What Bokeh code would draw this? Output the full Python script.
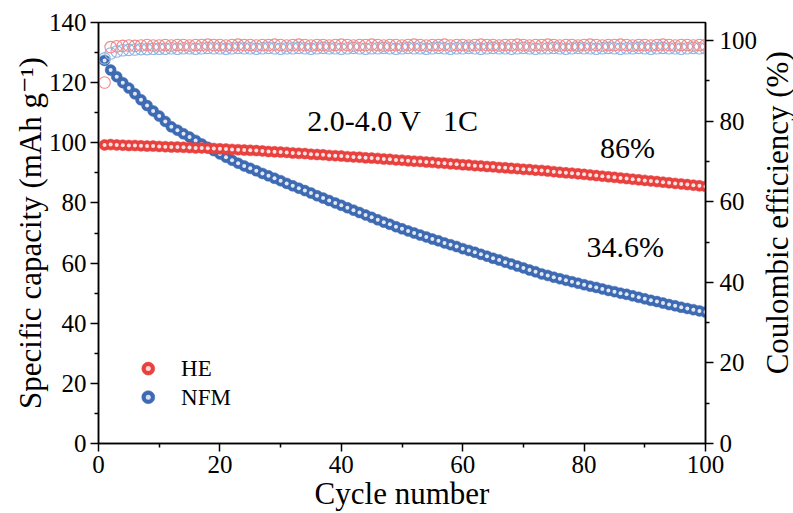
import math
from bokeh.plotting import figure
from bokeh.layouts import row
from bokeh.models import Range1d, LinearAxis, FixedTicker, Label
from bokeh.core.properties import value
from bokeh.embed import file_html
from bokeh.resources import INLINE

cycles = list(range(1, 101))

he_capacity = [
    99.3, 99.4, 99.3, 99.2, 99.1, 99.1, 99.0, 98.9, 98.9, 98.8,
    98.7, 98.6, 98.6, 98.5, 98.4, 98.3, 98.3, 98.2, 98.1, 98.0,
    97.9, 97.8, 97.7, 97.6, 97.5, 97.4, 97.3, 97.1, 97.0, 96.9,
    96.8, 96.6, 96.5, 96.4, 96.2, 96.1, 96.0, 95.8, 95.7, 95.6,
    95.4, 95.3, 95.2, 95.0, 94.9, 94.8, 94.6, 94.5, 94.3, 94.2,
    94.0, 93.9, 93.8, 93.6, 93.5, 93.3, 93.2, 93.0, 92.9, 92.7,
    92.6, 92.4, 92.3, 92.1, 92.0, 91.8, 91.7, 91.5, 91.4, 91.2,
    91.1, 90.9, 90.8, 90.6, 90.4, 90.2, 90.0, 89.9, 89.7, 89.5,
    89.3, 89.1, 88.9, 88.7, 88.5, 88.3, 88.1, 87.9, 87.7, 87.5,
    87.3, 87.1, 86.9, 86.7, 86.5, 86.3, 86.1, 85.9, 85.7, 85.5,
]

nfm_capacity = [
    127.4, 124.2, 122.0, 120.0, 118.2, 116.3, 114.3, 112.4, 110.6, 108.9,
    107.1, 105.3, 104.2, 103.0, 101.9, 100.8, 99.6, 98.5, 97.4, 96.3,
    95.2, 94.2, 93.2, 92.3, 91.5, 90.7, 89.8, 89.0, 88.2, 87.4,
    86.5, 85.7, 84.9, 84.1, 83.3, 82.4, 81.6, 80.8, 80.0, 79.2,
    78.4, 77.6, 76.8, 76.0, 75.2, 74.4, 73.6, 72.9, 72.1, 71.4,
    70.7, 70.0, 69.3, 68.7, 68.0, 67.4, 66.7, 66.1, 65.5, 64.8,
    64.2, 63.6, 62.9, 62.3, 61.6, 61.0, 60.3, 59.7, 59.0, 58.4,
    57.7, 57.1, 56.4, 55.9, 55.3, 54.8, 54.3, 53.8, 53.3, 52.8,
    52.3, 51.9, 51.4, 50.9, 50.5, 50.0, 49.6, 49.1, 48.6, 48.1,
    47.6, 47.2, 46.7, 46.2, 45.8, 45.3, 44.9, 44.5, 44.1, 43.7,
]

he_ce = [
    89.6, 98.4, 98.6, 98.7, 98.8, 98.7, 98.8, 98.9, 98.8, 98.8,
    98.9, 98.8, 98.9, 98.9, 98.8, 98.9, 98.9, 99.0, 98.9, 98.9,
    98.8, 98.9, 99.0, 98.9, 98.9, 98.8, 98.9, 98.9, 99.0, 98.9,
    98.8, 98.9, 99.0, 98.9, 98.8, 98.9, 98.9, 98.8, 98.9, 99.0,
    98.9, 98.8, 98.9, 98.9, 99.0, 98.9, 98.8, 98.9, 98.9, 98.8,
    98.9, 99.0, 98.9, 98.8, 98.9, 98.9, 99.0, 98.8, 98.9, 98.9,
    98.8, 98.9, 99.0, 98.9, 98.9, 98.8, 98.9, 98.9, 99.0, 98.9,
    98.8, 98.9, 98.9, 99.0, 98.9, 98.8, 98.9, 98.9, 98.8, 98.9,
    99.0, 98.9, 98.8, 98.9, 98.9, 99.0, 98.9, 98.8, 98.9, 98.9,
    98.8, 98.9, 99.0, 98.9, 98.8, 98.9, 98.9, 98.8, 98.9, 98.9,
]

nfm_ce = [
    95.6, 96.8, 97.3, 97.6, 97.7, 97.8, 97.9, 97.9, 98.0, 98.0,
    98.0, 98.1, 98.0, 98.1, 98.1, 98.0, 98.1, 98.2, 98.1, 98.1,
    98.0, 98.1, 98.2, 98.1, 98.1, 98.0, 98.1, 98.2, 98.1, 98.0,
    98.1, 98.1, 98.2, 98.1, 98.0, 98.1, 98.2, 98.1, 98.1, 98.0,
    98.1, 98.2, 98.1, 98.0, 98.1, 98.1, 98.2, 98.1, 98.0, 98.1,
    98.2, 98.1, 98.1, 98.0, 98.1, 98.2, 98.1, 98.0, 98.1, 98.1,
    98.2, 98.1, 98.0, 98.1, 98.2, 98.1, 98.1, 98.0, 98.1, 98.2,
    98.1, 98.0, 98.1, 98.1, 98.2, 98.1, 98.0, 98.1, 98.2, 98.1,
    98.1, 98.0, 98.1, 98.2, 98.1, 98.0, 98.1, 98.1, 98.2, 98.1,
    98.0, 98.1, 98.2, 98.1, 98.1, 98.0, 98.1, 98.2, 98.1, 98.1,
]

series_labels = ["HE", "NFM"]
left_ticks = [0, 20, 40, 60, 80, 100, 120, 140]
bottom_ticks = [0, 20, 40, 60, 80, 100]
right_ticks = [0, 20, 40, 60, 80, 100]

FONT = "Liberation Serif, Times New Roman, DejaVu Serif, serif"
RED = "#e8413e"
BLUE = "#3d6ab3"
RED_OPEN = "#f08a8a"
BLUE_OPEN = "#8fb3e3"

p = figure(width=760, height=513, output_backend="svg", toolbar_location=None,
           x_range=Range1d(0, 100), y_range=Range1d(0, 140),
           min_border_left=98, min_border_right=54, min_border_top=22,
           min_border_bottom=70, background_fill_color="white",
           border_fill_color="white")
p.extra_y_ranges = {"ce": Range1d(0, 104.5)}

p.xgrid.visible = False
p.ygrid.visible = False
p.outline_line_color = "black"
p.outline_line_width = 1.5


def style_axis(ax, ticks, minors):
    ax.ticker = FixedTicker(ticks=ticks, minor_ticks=minors)
    ax.axis_line_width = 1.5
    ax.axis_line_color = "black"
    ax.major_tick_line_width = 1.5
    ax.minor_tick_line_width = 1.5
    ax.major_tick_in = 0
    ax.major_tick_out = 8
    ax.minor_tick_in = 0
    ax.minor_tick_out = 4
    ax.major_label_text_font = FONT
    ax.major_label_text_font_size = "25px"
    ax.major_label_text_color = "black"
    ax.axis_label_text_font = FONT
    ax.axis_label_text_font_size = "31px"
    ax.axis_label_text_font_style = "normal"
    ax.axis_label_text_color = "black"
    ax.major_label_standoff = 4
    ax.axis_label_standoff = 4


xa = p.xaxis[0]
style_axis(xa, bottom_ticks, [10, 30, 50, 70, 90])
xa.axis_label = "Cycle number"
xa.axis_label_standoff = 0

ya = p.yaxis[0]
style_axis(ya, left_ticks, [10, 30, 50, 70, 90, 110, 130])
ya.axis_label = "Specific capacity (mAh g\u207b\u00b9)"
ya.axis_label_standoff = -2

ra = LinearAxis(y_range_name="ce")
style_axis(ra, right_ticks, [10, 30, 50, 70, 90])
ra.major_label_standoff = 6
p.add_layout(ra, "right")

# capacity spheres
p.scatter(cycles, nfm_capacity, size=11, marker="circle",
          fill_color=BLUE, line_color=BLUE, line_width=0.5)
p.scatter(cycles, nfm_capacity, size=4, marker="circle",
          fill_color="white", fill_alpha=0.85, line_color=None)
p.scatter(cycles, he_capacity, size=11, marker="circle",
          fill_color=RED, line_color=RED, line_width=0.5)
p.scatter(cycles, he_capacity, size=4, marker="circle",
          fill_color="white", fill_alpha=0.85, line_color=None)

# coulombic efficiency (open circles)
p.scatter(cycles, nfm_ce, size=11.5, marker="circle", fill_color=None,
          line_color=BLUE_OPEN, line_width=1.1, y_range_name="ce")
p.scatter(cycles, he_ce, size=11.5, marker="circle", fill_color=None,
          line_color=RED_OPEN, line_width=1.1, y_range_name="ce")

# annotations
p.text(x=[34.4], y=[107.3], text=["2.0-4.0 V \u00a0\u00a01C"], text_font=value(FONT),
       text_font_size="30px", text_baseline="alphabetic", text_color="black")
p.text(x=[82.6], y=[98.3], text=["86%"], text_font=value(FONT),
       text_font_size="30px", text_baseline="alphabetic", text_color="black")
p.text(x=[80.4], y=[65.6], text=["34.6%"], text_font=value(FONT),
       text_font_size="30px", text_baseline="alphabetic", text_color="black")

# legend (drawn manually so the sphere highlight is preserved)
leg_x = [8.2, 8.2]
leg_y = [24.9, 15.4]
leg_colors = [RED, BLUE]
p.scatter(leg_x, leg_y, size=13, marker="circle", fill_color=leg_colors,
          line_color=leg_colors, line_width=0.5)
p.scatter(leg_x, leg_y, size=5, marker="circle", fill_color="white",
          fill_alpha=0.8, line_color=None)
p.text(x=[13.6, 13.6], y=leg_y, text=series_labels, text_font=value(FONT),
       text_font_size="23px", text_baseline="middle", text_color="black")

# narrow side panel holding the right-hand axis title (reads bottom-to-top)
side = figure(width=33, height=513, output_backend="svg", toolbar_location=None,
              x_range=Range1d(0, 1), y_range=Range1d(0, 1),
              min_border=0, background_fill_color="white",
              border_fill_color="white")
side.axis.visible = False
side.grid.visible = False
side.outline_line_color = None
side.add_layout(Label(x=0.5, y=0.548, text="Coulombic efficiency (%)",
                      angle=math.pi / 2, text_align="center",
                      text_baseline="middle", text_font=FONT,
                      text_font_size="31px", text_color="black"))

layout = row(p, side, spacing=0)
open("out.html", "w").write(file_html(layout, INLINE))
